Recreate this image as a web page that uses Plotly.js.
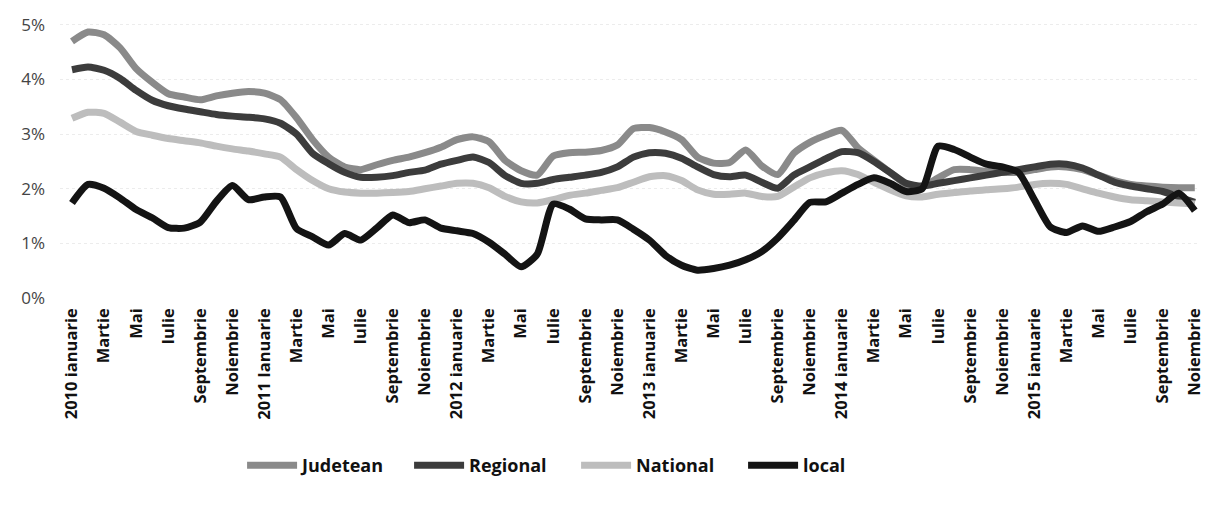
<!DOCTYPE html>
<html><head><meta charset="utf-8">
<script src="https://cdn.plot.ly/plotly-3.0.1.min.js"></script>
<style>html,body{margin:0;padding:0;background:#fff}#chart{width:1206px;height:506px}</style>
</head><body><div id="chart"></div>
<script>
const years = [2010, 2011, 2012, 2013, 2014, 2015];
const monthNames = ['ianuarie','februarie','martie','aprilie','mai','iunie','iulie','august','septembrie','octombrie','noiembrie','decembrie'];
const months = [];
years.forEach(y => monthNames.forEach(m => months.push(y + ' ' + m)));
months.length = 71; // ianuarie 2010 - noiembrie 2015

const tickLabels = [
  '2010 ianuarie','Martie','Mai','Iulie','Septembrie','Noiembrie',
  '2011 Ianuarie','Martie','Mai','Iulie','Septembrie','Noiembrie',
  '2012 ianuarie','Martie','Mai','Iulie','Septembrie','Noiembrie',
  '2013 ianuarie','Martie','Mai','Iulie','Septembrie','Noiembrie',
  '2014 ianuarie','Martie','Mai','Iulie','Septembrie','Noiembrie',
  '2015 ianuarie','Martie','Mai','Iulie','Septembrie','Noiembrie'
];
const yTickValues = [0, 1, 2, 3, 4, 5];
const yTickLabels = ['0%', '1%', '2%', '3%', '4%', '5%'];

const judetean = [
  4.70,4.87,4.82,4.58,4.20,3.95,3.74,3.68,3.63,3.70,
  3.75,3.78,3.75,3.63,3.30,2.90,2.58,2.40,2.35,2.44,
  2.52,2.58,2.66,2.76,2.90,2.95,2.86,2.52,2.33,2.25,
  2.60,2.66,2.67,2.70,2.80,3.10,3.12,3.04,2.90,2.58,
  2.47,2.48,2.71,2.42,2.26,2.65,2.85,2.98,3.07,2.75,
  2.52,2.30,2.08,2.03,2.20,2.35,2.35,2.32,2.30,2.30,
  2.35,2.40,2.40,2.35,2.25,2.15,2.08,2.05,2.03,2.02,2.02
];
const regional = [
  4.18,4.23,4.17,4.02,3.80,3.62,3.52,3.46,3.41,3.36,
  3.33,3.31,3.28,3.20,3.00,2.65,2.46,2.30,2.21,2.21,
  2.24,2.30,2.34,2.45,2.52,2.58,2.48,2.24,2.10,2.10,
  2.17,2.21,2.25,2.30,2.40,2.58,2.66,2.65,2.56,2.40,
  2.26,2.22,2.25,2.12,2.01,2.25,2.40,2.55,2.68,2.66,
  2.50,2.30,2.10,2.05,2.10,2.15,2.20,2.25,2.30,2.35,
  2.40,2.45,2.45,2.38,2.25,2.12,2.05,2.00,1.95,1.85,1.75
];
const national = [
  3.29,3.40,3.38,3.22,3.05,2.98,2.92,2.88,2.84,2.78,
  2.73,2.69,2.64,2.58,2.35,2.15,2.00,1.94,1.92,1.92,
  1.93,1.95,2.00,2.05,2.10,2.10,2.02,1.86,1.76,1.74,
  1.80,1.88,1.92,1.97,2.02,2.12,2.22,2.24,2.15,1.98,
  1.90,1.90,1.92,1.86,1.86,2.03,2.20,2.29,2.33,2.26,
  2.12,1.98,1.87,1.85,1.90,1.93,1.96,1.98,2.00,2.03,
  2.08,2.10,2.08,2.00,1.92,1.85,1.80,1.78,1.76,1.74,1.72
];
const local = [
  1.74,2.08,2.01,1.83,1.62,1.47,1.29,1.28,1.39,1.77,
  2.06,1.80,1.85,1.85,1.27,1.12,0.97,1.18,1.06,1.28,
  1.52,1.38,1.43,1.28,1.23,1.18,1.02,0.80,0.57,0.80,
  1.72,1.63,1.45,1.43,1.43,1.26,1.06,0.78,0.60,0.51,
  0.54,0.60,0.70,0.85,1.10,1.42,1.75,1.76,1.92,2.08,
  2.20,2.10,1.95,2.00,2.78,2.72,2.58,2.45,2.40,2.30,
  1.80,1.30,1.20,1.32,1.22,1.30,1.40,1.58,1.72,1.92,1.60
];

const seriesNames = ['Judetean','Regional','National','local'];
const seriesData = [judetean, regional, national, local];
const seriesColors = ['#8a8a8a','#3c3c3c','#bdbdbd','#141414'];

const traces = seriesData.map((vals, k) => ({
  type: 'scatter', mode: 'lines', name: '<b>' + seriesNames[k] + '</b>',
  x: months, y: vals,
  line: {color: seriesColors[k], width: 7, shape: 'spline', smoothing: 0.6}
}));

const layout = {
  width: 1206, height: 506,
  margin: {l: 60, r: 8, t: 14, b: 208},
  paper_bgcolor: '#fff', plot_bgcolor: '#fff',
  showlegend: true,
  legend: {
    orientation: 'h', x: 0.16, xanchor: 'left', y: -0.59, yanchor: 'middle',
    font: {family: 'Open Sans', size: 18, color: '#111'},
    itemwidth: 50, entrywidth: 102, tracegroupgap: 0
  },
  xaxis: {
    type: 'category', range: [-0.748, 70.2],
    tickmode: 'array',
    tickvals: months.filter((_, i) => i % 2 === 0),
    ticktext: tickLabels.map(t => '<b>' + t + '</b>'),
    tickangle: -90,
    tickfont: {family: 'Open Sans', size: 16.5, color: '#111'},
    showgrid: false, zeroline: false, showline: false, ticks: '',
    ticklabelstandoff: 6
  },
  yaxis: {
    range: [0, 5.2], tickmode: 'array', tickvals: yTickValues, ticktext: yTickLabels,
    tickfont: {family: 'Open Sans', size: 17, color: '#444'},
    showgrid: true, griddash: 'dot', gridcolor: '#ececec', gridwidth: 1,
    zeroline: false, showline: false, ticks: '',
    ticklabelstandoff: 14
  }
};

Plotly.newPlot('chart', traces, layout, {displayModeBar: false, staticPlot: true});
</script>
</body></html>
